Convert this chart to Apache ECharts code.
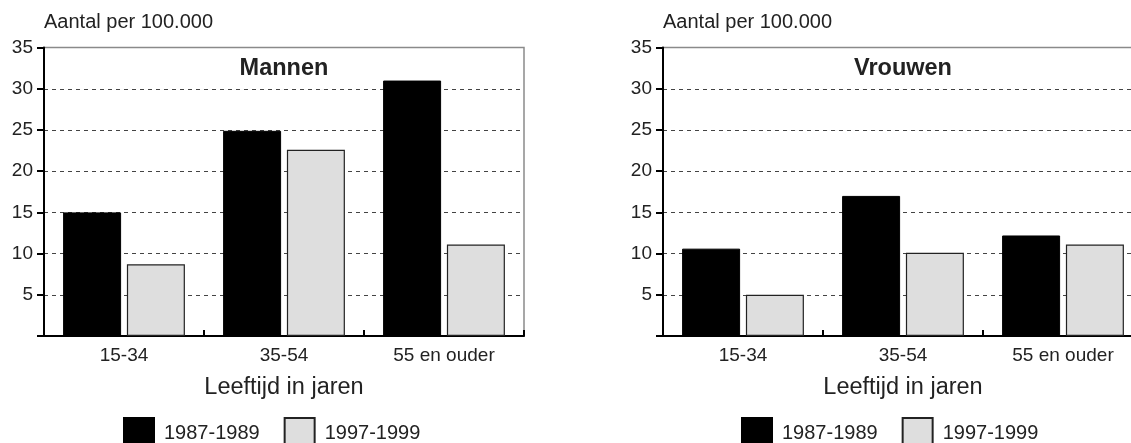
<!DOCTYPE html>
<html>
<head>
<meta charset="utf-8">
<script src="https://cdn.jsdelivr.net/npm/echarts@6/dist/echarts.min.js"></script>
<style>
  html, body { margin: 0; padding: 0; background: #fff; overflow: hidden; }
  /* the right-hand panel runs slightly past the window edge */
  #chart { width: 1143px; height: 443px; }
</style>
</head>
<body>
<div id="chart"></div>
<script>
// Age groups on the horizontal axis
const ageGroups = ['15-34', '35-54', '55 en ouder'];
// Periods compared in each panel
const periods = ['1987-1989', '1997-1999'];
// Rates per 100.000 inhabitants
const menEarly = [15.0, 24.9, 31.0];
const menLate = [8.7, 22.6, 11.1];
const womenEarly = [10.6, 17.0, 12.2];
const womenLate = [5.0, 10.1, 11.1];
// Vertical scale
const yMin = 0;
const yMax = 35;
const yStep = 5;

const TEXT = '#222';
const FONT = '"Liberation Sans", Arial, Helvetica, sans-serif';

const panels = [
  { title: 'Mannen', left: 44, early: menEarly, late: menLate, legendLeft: 123 },
  { title: 'Vrouwen', left: 663, early: womenEarly, late: womenLate, legendLeft: 741 }
];
const plotW = 480, plotTop = 47.6, plotH = 288.4;

const option = {
  animation: false,
  backgroundColor: '#fff',
  textStyle: { fontFamily: FONT, color: TEXT },
  title: [],
  legend: [],
  grid: [],
  xAxis: [],
  yAxis: [],
  series: []
};

panels.forEach((p, i) => {
  option.title.push({
    text: p.title, left: p.left + plotW / 2, top: 57, textAlign: 'center', padding: 0,
    textStyle: { fontFamily: FONT, fontSize: 23.5, fontWeight: 'bold', color: TEXT }
  });
  option.title.push({
    text: 'Aantal per 100.000', left: p.left, top: 12, padding: 0,
    textStyle: { fontFamily: FONT, fontSize: 20, fontWeight: 'normal', color: TEXT }
  });
  option.legend.push({
    data: periods, left: p.legendLeft, top: 417, orient: 'horizontal',
    itemWidth: 30, itemHeight: 30, itemGap: 24, icon: 'rect', selectedMode: false,
    padding: 0,
    textStyle: { fontFamily: FONT, fontSize: 20, color: TEXT, padding: [0, 0, 0, 5] }
  });
  option.grid.push({
    left: p.left, top: plotTop, width: plotW, height: plotH,
    show: true, borderColor: '#8a8a8a', borderWidth: 1.5, backgroundColor: 'transparent'
  });
  option.xAxis.push({
    type: 'category', gridIndex: i, data: ageGroups, boundaryGap: true,
    axisLine: { lineStyle: { color: '#000', width: 2 } },
    axisTick: { show: true, inside: true, length: 6, lineStyle: { color: '#000', width: 2 } },
    axisLabel: { fontFamily: FONT, fontSize: 19, color: TEXT, margin: 10 },
    name: 'Leeftijd in jaren', nameLocation: 'middle', nameGap: 40,
    nameTextStyle: { fontFamily: FONT, fontSize: 23.5, color: TEXT },
    splitLine: { show: false }
  });
  option.yAxis.push({
    type: 'value', gridIndex: i, min: yMin, max: yMax, interval: yStep,
    axisLine: { show: true, lineStyle: { color: '#000', width: 2 } },
    axisTick: { show: true, inside: false, length: 7, lineStyle: { color: '#000', width: 2 } },
    axisLabel: {
      fontFamily: FONT, fontSize: 19, color: TEXT, margin: 11,
      formatter: v => (v === 0 ? '' : String(v))
    },
    splitLine: {
      show: true, showMinLine: false, showMaxLine: false,
      lineStyle: { color: '#444', width: 1, type: [4, 4] }
    }
  });
  option.series.push({
    name: periods[0], type: 'bar', xAxisIndex: i, yAxisIndex: i, data: p.early,
    barWidth: 58, barGap: '10%',
    itemStyle: { color: '#000', borderColor: '#000', borderWidth: 1 }
  });
  option.series.push({
    name: periods[1], type: 'bar', xAxisIndex: i, yAxisIndex: i, data: p.late,
    barWidth: 58, barGap: '10%',
    itemStyle: { color: '#dedede', borderColor: '#222', borderWidth: 1.2 }
  });
});

const chart = echarts.init(document.getElementById('chart'), null, { renderer: 'canvas' });
chart.setOption(option);
</script>
</body>
</html>
